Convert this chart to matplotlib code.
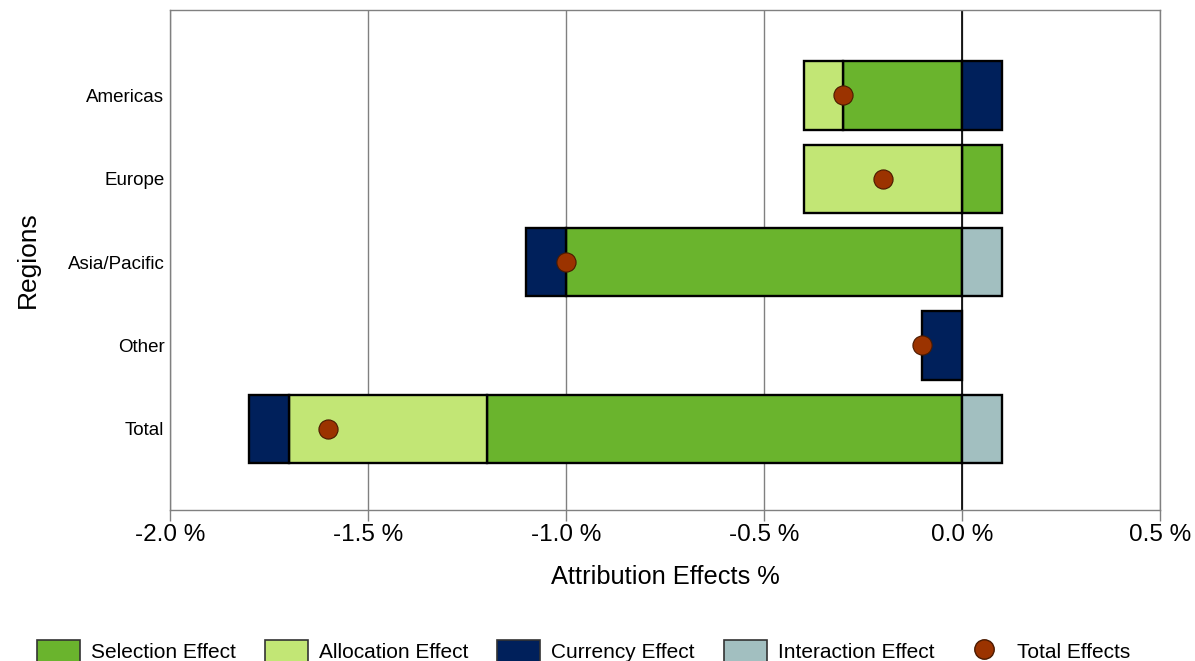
import matplotlib
matplotlib.use("Agg")
import matplotlib.pyplot as plt
from matplotlib.patches import Patch
from matplotlib.lines import Line2D
import numpy as np

regions = ["Americas", "Europe", "Asia/Pacific", "Other", "Total"]
selection = [-0.3, 0.1, -1.0, 0.0, -1.2]
allocation = [-0.1, -0.4, 0.0, 0.0, -0.5]
currency = [0.1, 0.0, -0.1, -0.1, -0.1]
interaction = [0.0, 0.0, 0.1, 0.0, 0.1]
total_effects = [-0.3, -0.2, -1.0, -0.1, -1.6]
x_ticks = [-2.0, -1.5, -1.0, -0.5, 0.0, 0.5]

series = [
    ("Selection Effect", selection, "#6ab42d"),
    ("Allocation Effect", allocation, "#c2e675"),
    ("Currency Effect", currency, "#00205b"),
    ("Interaction Effect", interaction, "#a2bfc0"),
]
marker_color = "#9b3300"

plt.rcParams["font.family"] = ["Liberation Sans", "DejaVu Sans"]

fig = plt.figure(figsize=(11.95, 6.61), dpi=100)
W, H = 1195, 661
ax = fig.add_axes([170 / W, 1 - 510 / H, 990 / W, 500 / H])

# stack negatives leftwards and positives rightwards from zero
y = np.arange(len(regions))
pos_base = np.zeros(len(regions))
neg_base = np.zeros(len(regions))
bar_h = 0.82
for name, vals, color in series:
    vals = np.asarray(vals)
    for i, v in enumerate(vals):
        if v == 0:
            continue
        if v > 0:
            left = pos_base[i]
            pos_base[i] += v
        else:
            left = neg_base[i]
            neg_base[i] += v
        ax.barh(y[i], v, left=left, height=bar_h, color=color,
                edgecolor="black", linewidth=1.7, zorder=3)

ax.scatter(total_effects, y, s=190, color=marker_color,
           edgecolors="#4a1a00", linewidths=0.8, zorder=5)

ax.set_xlim(-2.0, 0.5)
ax.set_ylim(len(regions) - 0.025, -1.025)
ax.set_xticks(x_ticks)
ax.set_xticklabels([f"{t:.1f} %" for t in x_ticks], fontsize=17.5)
ax.set_yticks(y)
ax.set_yticklabels(regions, fontsize=13.5)
ax.tick_params(axis="y", length=0, pad=4)
ax.tick_params(axis="x", length=8, width=1, color="#808080", pad=2)

ax.grid(axis="x", color="#808080", linewidth=1, zorder=0)
ax.axvline(0, color="black", linewidth=1.2, zorder=2)
for s in ax.spines.values():
    s.set_color("#808080")
    s.set_linewidth(1)

ax.set_xlabel("Attribution Effects %", fontsize=18.3, labelpad=14)
ax.set_ylabel("Regions", fontsize=19, labelpad=20)

handles = [Patch(facecolor=c, edgecolor="#333333", linewidth=1.2, label=n)
           for n, _, c in series]
handles.append(Line2D([], [], marker="o", linestyle="none", markersize=14,
                      markerfacecolor=marker_color, markeredgecolor="#4a1a00",
                      label="Total Effects"))
fig.legend(handles=handles, loc="upper left",
           bbox_to_anchor=(37 / W, 1 - 640 / H), ncol=5, frameon=False,
           prop={"size": 15},
           handlelength=2.07, handleheight=1.3, handletextpad=0.53,
           columnspacing=1.38, borderpad=0, borderaxespad=0)

fig.savefig("out.png", dpi=100)
